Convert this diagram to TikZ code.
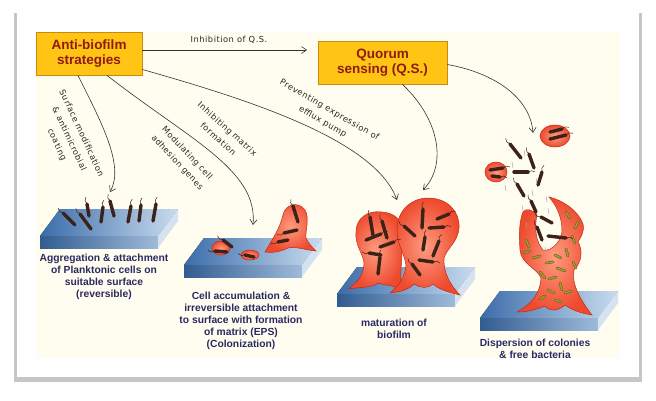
\documentclass[tikz,border=0pt]{standalone}
\usepackage{fontspec}
\setmainfont{Liberation Sans}
\newfontfamily\handfont[LetterSpace=6]{DejaVu Sans}
\usetikzlibrary{arrows.meta,calc}
\definecolor{boxfill}{HTML}{FFC414}
\definecolor{boxline}{HTML}{C98A12}
\definecolor{boxtext}{HTML}{8E1B12}
\definecolor{cream}{HTML}{FFFDEF}
\definecolor{navy}{HTML}{2A2A62}
\definecolor{bug}{HTML}{3C2218}
\definecolor{olive}{HTML}{8E8A36}
\definecolor{filmred}{HTML}{EE4A2E}
\definecolor{filmlight}{HTML}{FF9C80}
\definecolor{filmline}{HTML}{C22A18}
\definecolor{slabdark}{HTML}{3A6CAA}
\definecolor{slablight}{HTML}{CADCEE}
\definecolor{slabside}{HTML}{D5E3F1}
\tikzset{
  box/.style={draw=boxline, line width=0.8pt, fill=boxfill, text=boxtext,
    font=\bfseries\fontsize{13.5}{15}\selectfont, align=center, inner sep=0pt},
  arr/.style={line width=0.6pt, draw=black!80, -{Straight Barb[length=5pt,width=7pt]}},
  hand/.style={font=\handfont\fontsize{8.3}{13.5}\selectfont, align=center, text=black!85},
  stagetext/.style={font=\bfseries\fontsize{10.3}{12}\selectfont, text=navy, align=center},
  film/.style={draw=filmline, line width=0.5pt, inner color=filmlight, outer color=filmred},
  rod/.style={draw=bug, line width=3.4pt, line cap=round},
  flag/.style={draw=bug, line width=0.5pt},
  grod/.style={draw=olive!70!black, line width=2.6pt, line cap=round},
  grodin/.style={draw=olive!80!yellow, line width=1.4pt, line cap=round},
  loose/.style={draw=gray!70, line width=0.5pt},
}
\newcommand{\slab}[2]{%
  \fill[left color=slabdark, right color=slablight] (#1,#2) -- ++(118,0) -- ++(20,-27) -- ++(-118,0) -- cycle;
  \fill[left color=slabdark!85!black, right color=slablight!70!slabdark] (#1,#2) rectangle ++(118,12);
  \fill[slabside] (#1,#2) ++(118,0) -- ++(20,-27) -- ++(0,12) -- ++(-20,27) -- cycle;
}
\begin{document}
\begin{tikzpicture}[x=1pt,y=-1pt]
  \useasboundingbox (0,0) rectangle (656,400);
  \fill[gray!45] (14,13) rectangle (642,382);
  \fill[white] (17,11) rectangle (639,377);
  \fill[cream] (36,32) rectangle (620,358);

  \node[box, minimum width=106pt, minimum height=43pt] (anti) at (89,53.5) {Anti-biofilm\\strategies};
  \node[box, minimum width=129pt, minimum height=43pt] (qs) at (382.5,62.5) {Quorum\\sensing (Q.S.)};

  \coordinate (qsin) at (307,50);
  \coordinate (s1) at (110,192);
  \coordinate (s2) at (253,225);
  \coordinate (s3) at (397,200);
  \coordinate (s4) at (423,190);
  \coordinate (s5) at (533,133);

  \draw[arr] ([yshift=3.5pt]anti.east) -- (qsin);
  \draw[arr] ([xshift=-11pt]anti.south) .. controls (100,120) and (125,165) .. (s1);
  \draw[arr] ([xshift=18pt]anti.south) .. controls (190,140) and (258,170) .. (s2);
  \draw[arr] ([yshift=-16pt]anti.east) .. controls (250,100) and (375,140) .. (s3);
  \draw[arr] ([xshift=20pt]qs.south) .. controls (440,120) and (447,165) .. (s4);
  \draw[arr] ([yshift=-2pt]qs.east) .. controls (490,72) and (530,95) .. (s5);

  \node[hand] (l0) at (229,40) {Inhibition of Q.S.};
  \node[hand, rotate=-65] (l1) at (69,139) {Surface modification\\\& antimicrobial\\coating};
  \node[hand, rotate=-47] (l2) at (182,158) {Modulating cell\\adhesion genes};
  \node[hand, rotate=-42] (l3) at (223,134) {Inhibiting matrix\\formation};
  \node[hand, rotate=-30] (l4) at (326,116) {Preventing expression of\\efflux pump};

  \slab{40}{236}
  \slab{184}{265}
  \slab{337}{294}
  \slab{480}{318}

  \foreach \xa/\ya/\xb/\yb in {63/213/75/225, 80/214/91/229, 87/204/89/216, 103/207/101/222,
      110/201/114/216, 131/206/128/222, 141/205/139/221, 156/204/153/221}{
    \draw[flag] (\xa,\ya) to[bend left=40] ($(\xa,\ya)!-7pt!(\xb,\yb)$);
    \draw[rod] (\xa,\ya) -- (\xb,\yb);
  }

  \draw[film] (221,248) ellipse [x radius=9pt, y radius=7pt];
  \draw[film] (250,255) ellipse [x radius=9pt, y radius=5pt];
  \draw[film] (265,252) .. controls (272,240) and (280,228) .. (283,215)
    .. controls (285,205) and (297,200) .. (305,210)
    .. controls (310,218) and (305,232) .. (306,238)
    .. controls (308,243) and (312,247) .. (316,251)
    .. controls (305,250) and (295,246) .. (288,248)
    .. controls (280,252) and (272,253) .. (265,252) -- cycle;
  \foreach \xa/\ya/\xb/\yb in {223/240/232/247, 215/251/227/252, 245/255/254/257,
      293/206/298/222, 284/233/297/230, 278/242/288/240}{
    \draw[flag] (\xa,\ya) to[bend left=40] ($(\xa,\ya)!-7pt!(\xb,\yb)$);
    \draw[rod] (\xa,\ya) -- (\xb,\yb);
  }

  \draw[film] (348,289) .. controls (358,282) and (364,275) .. (364,262)
    .. controls (362,252) and (355,245) .. (356,232)
    .. controls (356,218) and (368,210) .. (382,212)
    .. controls (395,213) and (402,220) .. (403,232)
    -- (400,290)
    .. controls (392,284) and (385,286) .. (378,283)
    .. controls (372,288) and (360,287) .. (348,289) -- cycle;
  \draw[film] (390,293) .. controls (398,286) and (405,278) .. (406,265)
    .. controls (404,252) and (397,245) .. (397,230)
    .. controls (397,210) and (412,198) .. (428,198)
    .. controls (448,198) and (460,212) .. (459,228)
    .. controls (458,242) and (447,248) .. (444,258)
    .. controls (443,272) and (450,285) .. (460,295)
    .. controls (448,292) and (440,290) .. (433,284)
    .. controls (428,289) and (420,288) .. (414,284)
    .. controls (408,290) and (400,292) .. (390,293) -- cycle;
  \foreach \xa/\ya/\xb/\yb in {370/217/373/235, 382/221/387/238, 381/234/366/240, 394/242/380/247,
      369/253/381/255, 380/257/378/274, 423/209/422/228, 449/214/437/219, 404/226/415/236,
      444/227/429/228, 425/237/423/250, 439/241/433/256, 433/262/419/260, 412/264/420/275}{
    \draw[flag] (\xa,\ya) to[bend left=40] ($(\xa,\ya)!-7pt!(\xb,\yb)$);
    \draw[rod] (\xa,\ya) -- (\xb,\yb);
  }

  \draw[film] (517,312) .. controls (530,305) and (540,295) .. (541,278)
    .. controls (537,268) and (521,264) .. (520,250)
    .. controls (519,235) and (519,222) .. (523,212)
    .. controls (526,208) and (532,209) .. (537,215)
    .. controls (534,228) and (536,242) .. (543,250)
    .. controls (552,252) and (563,240) .. (562,228)
    .. controls (561,215) and (556,205) .. (549,197)
    .. controls (562,200) and (578,210) .. (583,224)
    .. controls (585,232) and (580,238) .. (578,242)
    .. controls (583,250) and (582,262) .. (574,270)
    .. controls (571,285) and (582,302) .. (592,315)
    .. controls (580,313) and (572,310) .. (565,305)
    .. controls (558,311) and (550,312) .. (545,306)
    .. controls (535,310) and (527,312) .. (517,312) -- cycle;
  \foreach \xa/\ya/\xb/\yb in {526/240/529/247, 533/258/540/256, 546/263/553/262, 555/255/561/258,
      566/249/568/256, 572/236/575/243, 575/228/578/222, 566/212/570/218, 557/268/565/271,
      540/272/545/278, 549/279/556/277, 560/283/562/290, 548/290/554/293, 565/293/571/291,
      555/300/561/302, 540/299/545/296, 524/253/530/251, 573/262/576/268}{
    \draw[grod] (\xa,\ya) -- (\xb,\yb);
    \draw[grodin] (\xa,\ya) -- (\xb,\yb);
  }

  \draw[film] (555,136) ellipse [x radius=15pt, y radius=11pt];
  \draw[film] (496,172) ellipse [x radius=11pt, y radius=10pt];
  \foreach \xa/\ya/\xb/\yb in {510/144/521/158, 529/154/534/168, 542/172/538/185, 517/184/524/196,
      531/201/536/212, 541/217/552/223, 537/227/542/240, 566/238/548/236, 528/172/514/172,
      562/129/550/132, 566/135/550/139, 503/168/490/170, 500/177/492/176}{
    \draw[flag] (\xa,\ya) to[bend left=40] ($(\xa,\ya)!-7pt!(\xb,\yb)$);
    \draw[rod] (\xa,\ya) -- (\xb,\yb);
  }
  \foreach \xa/\ya in {512/162, 524/150, 536/178, 522/205, 546/196, 532/190, 526/222, 545/247, 505/185, 548/208}{
    \draw[loose] (\xa,\ya) .. controls +(2,2) and +(-2,-2) .. +(1,6);
  }

  \node[stagetext] (t1) at (104,277) {Aggregation \& attachment\\of Planktonic cells on\\suitable surface\\(reversible)};
  \node[stagetext] (t2) at (241,321) {Cell accumulation \&\\irreversible attachment\\to surface with formation\\of matrix (EPS)\\(Colonization)};
  \node[stagetext] (t3) at (394,329) {maturation of\\biofilm};
  \node[stagetext] (t4) at (535,349) {Dispersion of colonies\\\& free bacteria};
\end{tikzpicture}
\end{document}
